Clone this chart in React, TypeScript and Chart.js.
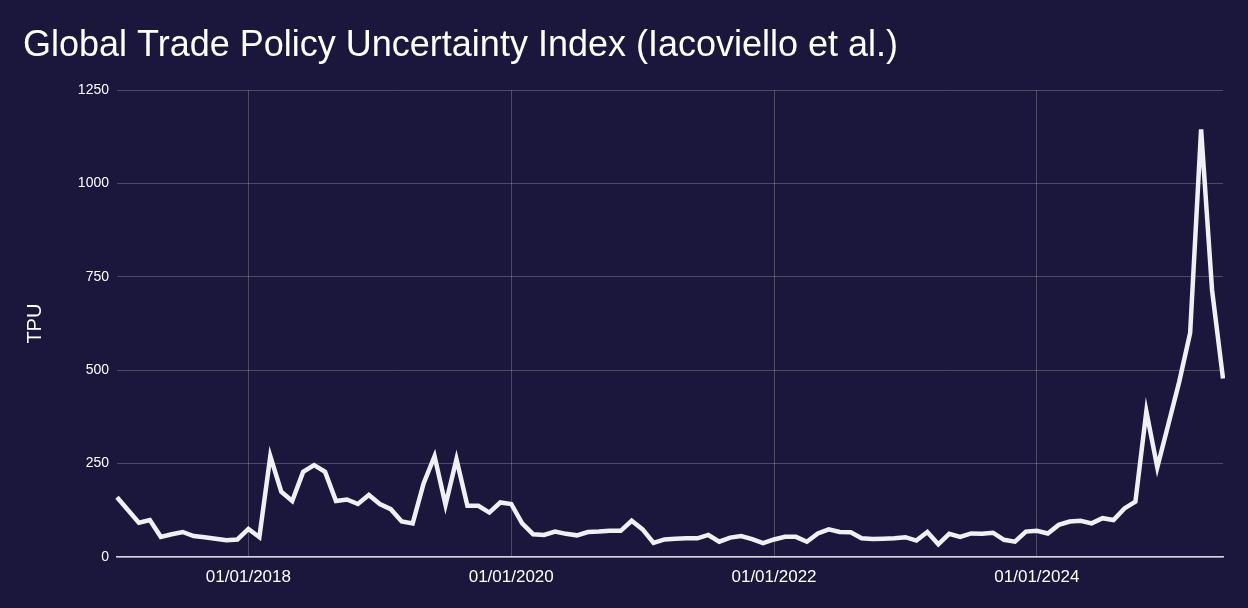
import React, { useEffect, useRef } from "react";
import { Chart, registerables } from "chart.js";

Chart.register(...registerables);

// ---- data ----
const START_YEAR = 2017;
const MONTH_COUNT = 102; // Jan 2017 .. Jun 2025
const months: string[] = [];
for (let i = 0; i < MONTH_COUNT; i++) {
  const y = START_YEAR + Math.floor(i / 12);
  const m = (i % 12) + 1;
  months.push(`${y}-${m < 10 ? "0" + m : m}`);
}

const tpuValues: number[] = [
  160, 126, 92, 99, 54, 61, 67, 56, 53, 49, 45, 47,
  75, 53, 270, 175, 150, 228, 246, 228, 150, 154, 142, 166,
  142, 128, 95, 90, 197, 270, 140, 262, 137, 137, 119, 146,
  142, 90, 61, 59, 68, 62, 58, 67, 68, 70, 70, 97,
  74, 38, 47, 49, 50, 50, 59, 41, 52, 56, 48, 37,
  47, 54, 54, 41, 63, 74, 67, 66, 50, 48, 49, 50,
  53, 44, 67, 34, 62, 54, 63, 62, 65, 46, 41, 68,
  70, 63, 86, 95, 97, 90, 104, 99, 130, 148, 390, 240,
  354, 469, 600, 1145, 715, 478,
];

const xTickMonths: string[] = ["2018-01", "2020-01", "2022-01", "2024-01"];
const xTickLabels: string[] = ["01/01/2018", "01/01/2020", "01/01/2022", "01/01/2024"];
const yTicks: number[] = [0, 250, 500, 750, 1000, 1250];

const TITLE = "Global Trade Policy Uncertainty Index (Iacoviello et al.)";
const Y_TITLE = "TPU";

const BG = "#1b163c";
const FONT = '"Liberation Sans", Arial, Helvetica, sans-serif';

export default function App() {
  const ref = useRef<HTMLCanvasElement | null>(null);

  useEffect(() => {
    document.body.style.margin = "0";
    document.body.style.background = BG;
    if (!ref.current) return;
    const chart = new Chart(ref.current, {
      type: "line",
      data: {
        labels: months,
        datasets: [
          {
            data: tpuValues,
            borderColor: "#f0f0f2",
            borderWidth: 4.5,
            pointRadius: 0,
            tension: 0,
            fill: false,
            borderJoinStyle: "miter",
          },
        ],
      },
      options: {
        animation: false,
        responsive: false,
        maintainAspectRatio: false,
        layout: { padding: { top: 0, left: 23, right: 25, bottom: 0 } },
        plugins: {
          legend: { display: false },
          tooltip: { enabled: false },
          title: {
            display: true,
            text: TITLE,
            align: "start",
            color: "#ffffff",
            font: { family: FONT, size: 36, weight: "normal" },
            padding: { top: 24, bottom: 23 },
          },
        },
        scales: {
          x: {
            type: "category",
            offset: false,
            afterBuildTicks: (scale: any) => {
              scale.ticks = xTickMonths.map((m) => ({ value: months.indexOf(m) }));
            },
            afterFit: (scale: any) => {
              scale.height = 51;
            },
            ticks: {
              autoSkip: false,
              maxRotation: 0,
              color: "#ffffff",
              padding: 10,
              font: { family: FONT, size: 17 },
              callback: (value: any) => {
                const idx = xTickMonths.indexOf(months[value as number]);
                return idx >= 0 ? xTickLabels[idx] : "";
              },
            },
            grid: {
              color: "rgba(255,255,255,0.22)",
              lineWidth: 1,
              drawTicks: false,
            },
            border: { display: true, color: "rgba(235,235,245,0.9)", width: 1.5 },
          },
          y: {
            min: 0,
            max: 1250,
            afterBuildTicks: (scale: any) => {
              scale.ticks = yTicks.map((v) => ({ value: v }));
            },
            afterFit: (scale: any) => {
              scale.width = 94;
            },
            ticks: {
              color: "#ffffff",
              padding: 8,
              font: { family: FONT, size: 14 },
              callback: (value: any) => String(value),
            },
            grid: {
              color: "rgba(255,255,255,0.22)",
              lineWidth: 1,
              drawTicks: false,
            },
            border: { display: false },
            title: {
              display: true,
              text: Y_TITLE,
              color: "#ffffff",
              font: { family: FONT, size: 20 },
              padding: { top: 0, bottom: 0 },
            },
          },
        },
      },
    });
    return () => chart.destroy();
  }, []);

  return (
    <div style={{ width: 1248, height: 608, background: BG }}>
      <canvas ref={ref} width={1248} height={608} />
    </div>
  );
}
